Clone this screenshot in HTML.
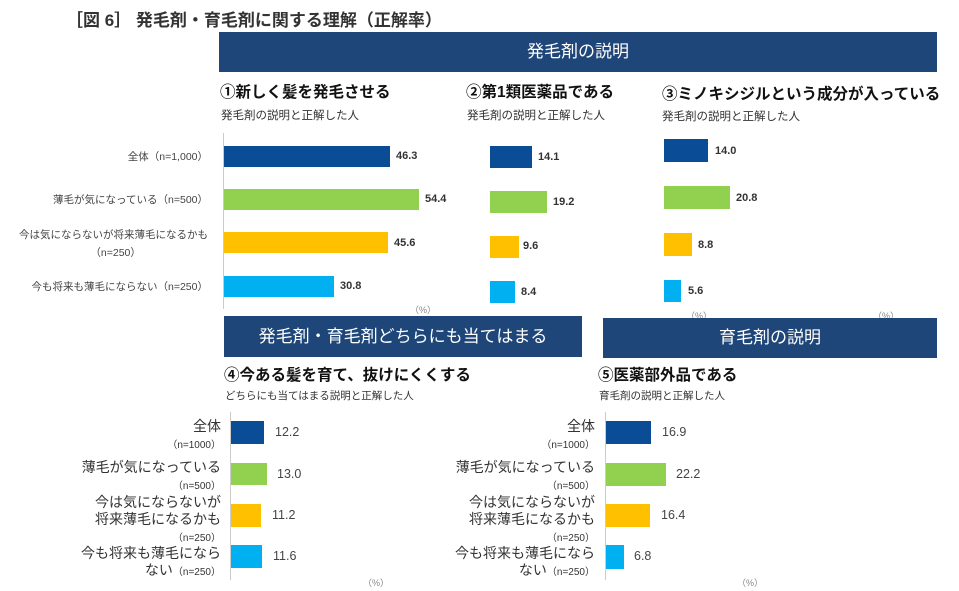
<!DOCTYPE html>
<html><head><meta charset="utf-8"><style>
body{margin:0;width:959px;height:591px;background:#fff;position:relative;overflow:hidden;font-family:"Liberation Sans","Noto Sans CJK JP",sans-serif;color:#222}
div{position:absolute;white-space:nowrap}
.band{background:#1f4679;color:#fff;text-align:center}
.b1{background:#0b4c97}.b2{background:#92d050}.b3{background:#ffc000}.b4{background:#00b0f0}
.v{font-size:11px;font-weight:bold;color:#333}
.v2{font-size:12.5px;color:#444}
.t{font-size:15.5px;font-weight:bold;color:#111}
.s{font-size:11.5px;color:#333}
.l{font-size:10.5px;color:#444;text-align:right}
.L{font-size:14px;color:#333;text-align:right;line-height:17px}
.n{font-size:10px}
.ax{background:#ccc;width:1px}
.p{font-size:9px;color:#888}
</style></head><body>
<div style="left:66px;top:6px;font-size:17px;font-weight:bold;color:#333">［図 6］ 発毛剤・育毛剤に関する理解（正解率）</div>

<div class="band" style="left:219px;top:32px;width:718px;height:40px;line-height:40px;font-size:17px">発毛剤の説明</div>
<div class="t" style="left:220px;top:80px">①新しく髪を発毛させる</div>
<div class="s" style="left:221px;top:107px">発毛剤の説明と正解した人</div>
<div class="t" style="left:466px;top:80px">②第1類医薬品である</div>
<div class="s" style="left:467px;top:107px">発毛剤の説明と正解した人</div>
<div class="t" style="left:662px;top:82px">③ミノキシジルという成分が入っている</div>
<div class="s" style="left:662px;top:108px">発毛剤の説明と正解した人</div>

<div class="ax" style="left:223px;top:133px;height:176px"></div>
<div class="l" style="right:751px;top:149px">全体（n=1,000）</div>
<div class="l" style="right:751px;top:192px">薄毛が気になっている（n=500）</div>
<div class="l" style="right:751px;top:226px;line-height:18px">今は気にならないが将来薄毛になるかも<br>（n=250）&nbsp;&nbsp;&nbsp;&nbsp;&nbsp;&nbsp;&nbsp;&nbsp;&nbsp;&nbsp;&nbsp;&nbsp;&nbsp;&nbsp;&nbsp;&nbsp;&nbsp;&nbsp;&nbsp;&nbsp;&nbsp;&nbsp;&nbsp;</div>
<div class="l" style="right:751px;top:279px">今も将来も薄毛にならない（n=250）</div>
<div class="b1" style="left:224px;top:146px;width:166px;height:21px"></div><div class="v" style="left:396px;top:150px">46.3</div>
<div class="b2" style="left:224px;top:189px;width:195px;height:21px"></div><div class="v" style="left:425px;top:193px">54.4</div>
<div class="b3" style="left:224px;top:232px;width:164px;height:21px"></div><div class="v" style="left:394px;top:237px">45.6</div>
<div class="b4" style="left:224px;top:276px;width:110px;height:21px"></div><div class="v" style="left:340px;top:280px">30.8</div>
<div class="p" style="left:410px;top:303px">（%）</div>

<div class="b1" style="left:490px;top:146px;width:42px;height:22px"></div><div class="v" style="left:538px;top:151px">14.1</div>
<div class="b2" style="left:490px;top:191px;width:57px;height:22px"></div><div class="v" style="left:553px;top:196px">19.2</div>
<div class="b3" style="left:490px;top:236px;width:29px;height:22px"></div><div class="v" style="left:523px;top:240px">9.6</div>
<div class="b4" style="left:490px;top:281px;width:25px;height:22px"></div><div class="v" style="left:521px;top:286px">8.4</div>

<div class="b1" style="left:664px;top:139px;width:44px;height:23px"></div><div class="v" style="left:715px;top:145px">14.0</div>
<div class="b2" style="left:664px;top:186px;width:66px;height:23px"></div><div class="v" style="left:736px;top:192px">20.8</div>
<div class="b3" style="left:664px;top:233px;width:28px;height:23px"></div><div class="v" style="left:698px;top:239px">8.8</div>
<div class="b4" style="left:664px;top:280px;width:17px;height:22px"></div><div class="v" style="left:688px;top:285px">5.6</div>
<div class="p" style="left:686px;top:309px">（%）</div>
<div class="p" style="left:873px;top:309px">（%）</div>

<div class="band" style="left:224px;top:316px;width:358px;height:41px;line-height:41px;font-size:17px">発毛剤・育毛剤どちらにも当てはまる</div>
<div class="band" style="left:603px;top:318px;width:334px;height:40px;line-height:40px;font-size:17px">育毛剤の説明</div>

<div class="t" style="left:224px;top:363px">④今ある髪を育て、抜けにくくする</div>
<div class="s" style="left:225px;top:388px;font-size:10.5px">どちらにも当てはまる説明と正解した人</div>
<div class="ax" style="left:230px;top:412px;height:168px"></div>
<div class="L" style="right:738px;top:418px">全体<br><span class="n">（n=1000）</span></div>
<div class="L" style="right:738px;top:459px">薄毛が気になっている<br><span class="n">（n=500）</span></div>
<div class="L" style="right:738px;top:494px">今は気にならないが<br>将来薄毛になるかも<br><span class="n">（n=250）</span></div>
<div class="L" style="right:738px;top:545px">今も将来も薄毛になら<br>ない<span class="n">（n=250）</span></div>
<div class="b1" style="left:231px;top:421px;width:33px;height:23px"></div><div class="v2" style="left:275px;top:425px">12.2</div>
<div class="b2" style="left:231px;top:463px;width:36px;height:22px"></div><div class="v2" style="left:277px;top:467px">13.0</div>
<div class="b3" style="left:231px;top:504px;width:30px;height:23px"></div><div class="v2" style="left:272px;top:508px">11.2</div>
<div class="b4" style="left:231px;top:545px;width:31px;height:23px"></div><div class="v2" style="left:273px;top:549px">11.6</div>
<div class="p" style="left:363px;top:576px">（%）</div>

<div class="t" style="left:598px;top:363px">⑤医薬部外品である</div>
<div class="s" style="left:599px;top:388px;font-size:10.5px">育毛剤の説明と正解した人</div>
<div class="ax" style="left:605px;top:412px;height:168px"></div>
<div class="L" style="right:364px;top:418px">全体<br><span class="n">（n=1000）</span></div>
<div class="L" style="right:364px;top:459px">薄毛が気になっている<br><span class="n">（n=500）</span></div>
<div class="L" style="right:364px;top:494px">今は気にならないが<br>将来薄毛になるかも<br><span class="n">（n=250）</span></div>
<div class="L" style="right:364px;top:545px">今も将来も薄毛になら<br>ない<span class="n">（n=250）</span></div>
<div class="b1" style="left:606px;top:421px;width:45px;height:23px"></div><div class="v2" style="left:662px;top:425px">16.9</div>
<div class="b2" style="left:606px;top:463px;width:60px;height:23px"></div><div class="v2" style="left:676px;top:467px">22.2</div>
<div class="b3" style="left:606px;top:504px;width:44px;height:23px"></div><div class="v2" style="left:661px;top:508px">16.4</div>
<div class="b4" style="left:606px;top:545px;width:18px;height:24px"></div><div class="v2" style="left:634px;top:549px">6.8</div>
<div class="p" style="left:737px;top:576px">（%）</div>
</body></html>
